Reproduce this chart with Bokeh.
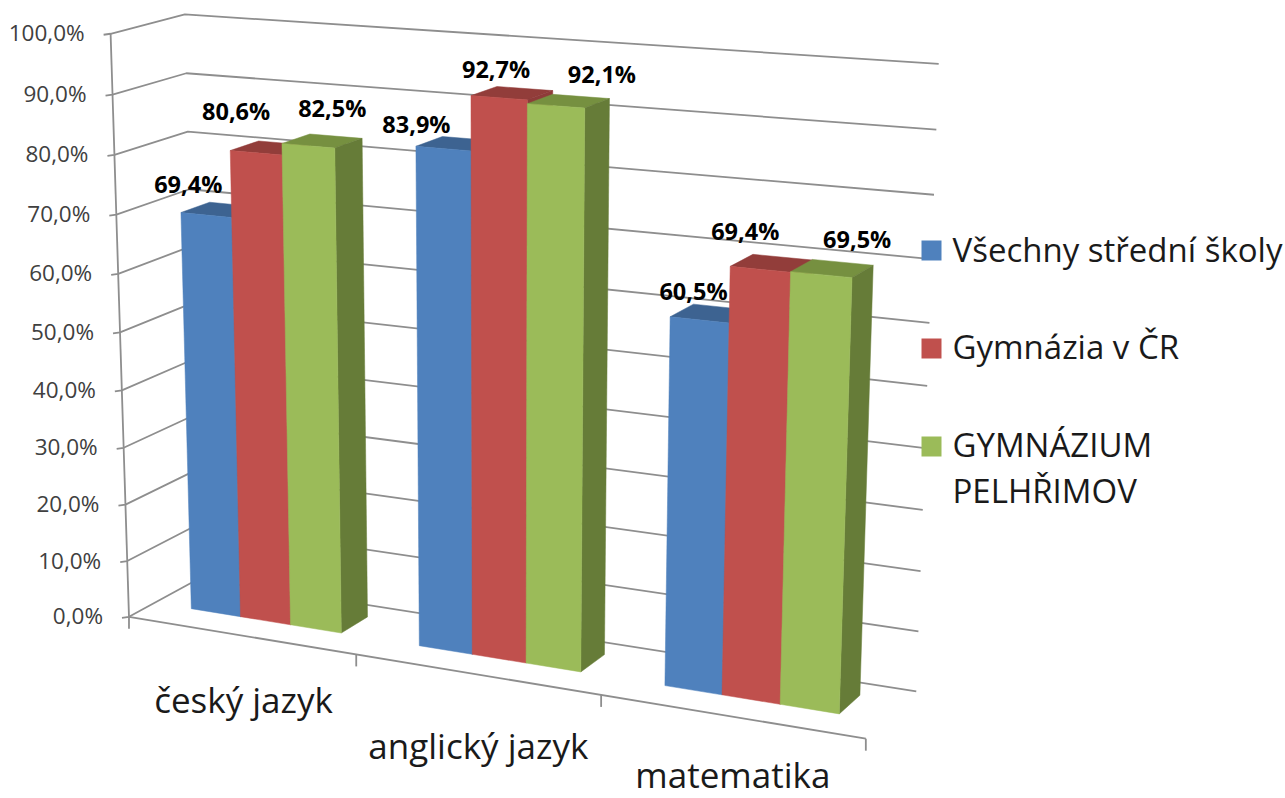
import numpy as np
from bokeh.plotting import figure
from bokeh.core.properties import value
from bokeh.embed import file_html
from bokeh.resources import INLINE

categories = ["český jazyk", "anglický jazyk", "matematika"]
series_names = ["Všechny střední školy", "Gymnázia v ČR", "GYMNÁZIUM PELHŘIMOV"]
vsechny = [69.4, 83.9, 60.5]
gymnazia = [80.6, 92.7, 69.4]
pelhrimov = [82.5, 92.1, 69.5]
y_ticks = [0, 10, 20, 30, 40, 50, 60, 70, 80, 90, 100]
y_tick_labels = ["0,0%", "10,0%", "20,0%", "30,0%", "40,0%", "50,0%", "60,0%", "70,0%", "80,0%", "90,0%", "100,0%"]
series = [vsechny, gymnazia, pelhrimov]

FRONT = ["#4F81BD", "#C0504D", "#9BBB59"]
SIDE = ["#3A5F8C", "#8E3B39", "#667C38"]
TOP = ["#3D6391", "#923D3A", "#769040"]
GRID = "#8E8E8E"
FONT = "Open Sans"

BAR_W = 0.222
Z0, Z1 = 0.36, 0.76

# camera calibration of the 3D box: (category, value, depth) -> page pixel
cal = [
    (0, 0, 0, 133, 614), (0, 100, 0, 109, 32), (0, 90, 0, 112, 92),
    (0, 100, 1, 189, 13), (0, 90, 1, 191, 72), (0, 0, 1, 192, 583),
    (3, 100, 1, 940, 63), (3, 90, 1, 938, 129), (3, 10, 1, 919, 628), (3, 0, 1, 917, 687),
    (3, 0, 0, 867, 739), (1, 0, 0, 358, 654), (2, 0, 0, 603, 695),
    (.167, 0, Z0, 191, 608), (.167, 69.4, Z0, 178, 212),
    (.833, 0, Z0, 340, 632), (.833, 82.5, Z0, 332, 148),
    (1.167, 0, Z0, 418, 646), (1.167, 83.9, Z0, 413, 147),
    (1.833, 0, Z0, 580, 671), (1.833, 92.1, Z0, 583, 107),
    (2.167, 0, Z0, 664, 686), (2.167, 60.5, Z0, 668, 318),
    (2.833, 0, Z0, 838, 715), (2.833, 69.5, Z0, 851, 278),
    (.833, 0, Z1, 368, 615), (.833, 82.5, Z1, 360, 139),
    (1.833, 92.1, Z1, 607, 99),
    (2.833, 0, Z1, 858, 694), (2.833, 69.5, Z1, 871, 267),
]
A = []
for X, Y, Z, u, v in cal:
    A.append([X, Y, Z, 1, 0, 0, 0, 0, -u * X, -u * Y, -u * Z, -u])
    A.append([0, 0, 0, 0, X, Y, Z, 1, -v * X, -v * Y, -v * Z, -v])
P = np.linalg.svd(np.array(A, float))[2][-1].reshape(3, 4)


def project(X, Y, Z):
    q = P @ np.array([X, Y, Z, 1.0])
    return q[0] / q[2], q[1] / q[2]


p = figure(width=1285, height=798, x_range=(0, 1285), y_range=(798, 0),
           output_backend="svg", toolbar_location=None, min_border=0,
           background_fill_color="white", border_fill_color="white",
           outline_line_color=None)
p.axis.visible = False
p.grid.visible = False

# walls: value gridlines
gx, gy = [], []
for v in y_ticks:
    pts = [project(0, v, 0), project(0, v, 1), project(3, v, 1)]
    tick = project(0, v, 0)
    gx.append([tick[0] - 7] + [a for a, _ in pts])
    gy.append([tick[1] + 1] + [b for _, b in pts])
pts = [project(0, 0, 0), project(0, 100, 0)]
gx.append([a for a, _ in pts]); gy.append([b for _, b in pts])
pts = [project(0, 0, 0), project(3, 0, 0)]
gx.append([a for a, _ in pts]); gy.append([b for _, b in pts])
for i in range(4):
    a, b = project(i, 0, 0)
    gx.append([a, a]); gy.append([b, b + 12])
p.multi_line(gx, gy, line_color=GRID, line_width=1.8)

# bars
for i in range(len(categories)):
    left = i + 0.5 - 1.5 * BAR_W
    for j, vals in enumerate(series):
        h = vals[i]
        x0, x1 = left + j * BAR_W, left + (j + 1) * BAR_W
        faces = [
            ([(x0, h, Z0), (x1, h, Z0), (x1, h, Z1), (x0, h, Z1)], TOP[j]),
            ([(x1, 0, Z0), (x1, h, Z0), (x1, h, Z1), (x1, 0, Z1)], SIDE[j]),
            ([(x0, 0, Z0), (x1, 0, Z0), (x1, h, Z0), (x0, h, Z0)], FRONT[j]),
        ]
        for corners, col in faces:
            q = [project(*c) for c in corners]
            p.patch([a for a, _ in q], [b for _, b in q], fill_color=col, line_color=col, line_width=0.5)

# data labels, nudged from the top of their bar as the original places them
label_dx = [[-18, -27, -6], [-20, -3, -15], [24, 46, 36]]
label_dy = [[-31, -25, -29], [-42, -29, -38], [-38, -32, -36]]
lx, ly, lt = [], [], []
for i in range(len(categories)):
    left = i + 0.5 - 1.5 * BAR_W
    for j, vals in enumerate(series):
        a, b = project(left + (j + 0.5) * BAR_W, vals[i], Z0)
        lx.append(a + label_dx[j][i]); ly.append(b + label_dy[j][i])
        lt.append(f"{vals[i]:.1f}%".replace(".", ","))
p.text(lx, ly, text=lt, text_font=value(FONT), text_font_style="bold", text_font_size="23.5px",
       text_color="#000000", text_align="center", text_baseline="middle")

# value axis labels
tx, ty = [], []
for v in y_ticks:
    a, b = project(0, v, 0)
    tx.append(a - 26); ty.append(b - 1)
p.text(tx, ty, text=y_tick_labels, text_font=value(FONT), text_font_size="22.5px",
       text_color="#404040", text_align="right", text_baseline="middle")

# category labels
cat_dx = [3, 2, 2]
cat_base = [699, 745, 774]
cx = [project(i + 0.5, 0, 0)[0] + cat_dx[i] for i in range(3)]
p.text(cx, cat_base, text=categories, text_font=value(FONT), text_font_size="35px",
       text_color="#1a1a1a", text_align="center", text_baseline="alphabetic")

# legend
leg_y = [250, 348, 446]
for j in range(3):
    p.rect([931], [leg_y[j]], width=20, height=20, fill_color=FRONT[j], line_color=None)
leg_text = [series_names[0], series_names[1], "GYMNÁZIUM", "PELHŘIMOV"]
p.text([952, 952, 952, 952], [249, 346, 444, 490], text=leg_text, text_font=value(FONT),
       text_font_size="33px", text_color="#1a1a1a", text_align="left", text_baseline="alphabetic")

open("out.html", "w").write(file_html(p, INLINE))
